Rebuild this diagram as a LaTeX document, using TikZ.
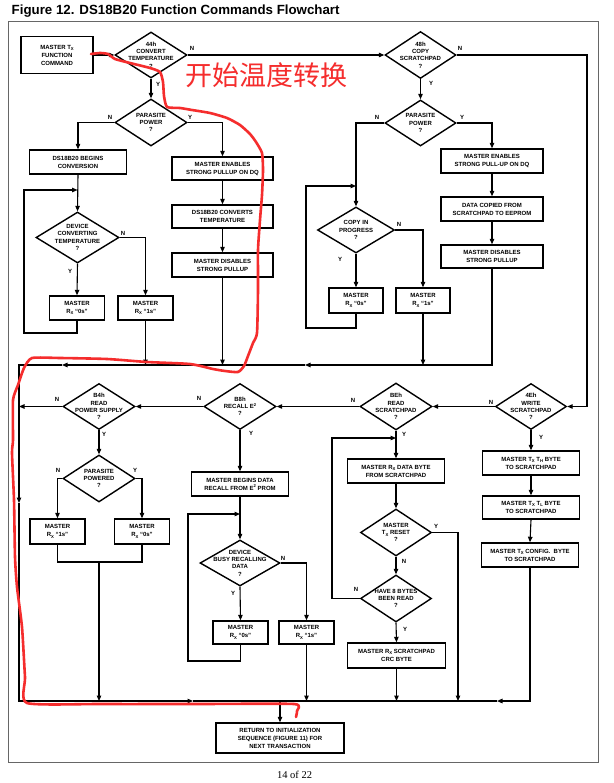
\documentclass[tikz,border=0pt]{standalone}
\usepackage{fontspec}
\setmainfont{Liberation Sans}
\newfontfamily\cjkfont{Noto Sans CJK SC}
\newfontfamily\tmsfont{Liberation Serif}
\usetikzlibrary{arrows.meta,shapes.geometric}
\newcommand\lo[1]{\raisebox{-0.45ex}{\fontsize{4.2}{4}\selectfont #1}}
\newcommand\hi[1]{\raisebox{0.75ex}{\fontsize{4.2}{4}\selectfont #1}}
\definecolor{annot}{RGB}{245,45,45}
\begin{document}
\begin{tikzpicture}[x=1pt,y=-1pt]
\tikzset{
 box/.style={draw, line width=1.4pt, inner sep=0pt, align=center, font=\fontsize{6}{8}\selectfont\bfseries},
 dia/.style={draw, diamond, line width=1.4pt, inner sep=0pt},
 dt/.style={align=center, inner sep=0pt, font=\fontsize{6}{7.3}\selectfont\bfseries},
 yn/.style={inner sep=0pt, font=\fontsize{6}{6}\selectfont\bfseries},
 ln/.style={line width=1.1pt},
 ar/.style={line width=1.1pt, -{Triangle[length=5.5pt,width=4.5pt]}},
}
\useasboundingbox (0,0) rectangle (613,783);
\fill[white] (0,0) rectangle (613,783);
\node[anchor=base west, inner sep=0pt, font=\fontsize{13.3}{14}\selectfont\bfseries] (title) at (11.5,15) {Figure 12. DS18B20 Function Commands Flowchart};
\draw[black!60, line width=1pt] (8,22) rectangle (598,762);
\node[anchor=base, inner sep=0pt, font=\tmsfont\fontsize{10.5}{12}\selectfont] (page) at (294.5,778) {14 of 22};

% ---------- top left ----------
\node[box, minimum width=72pt, minimum height=37pt] (n1) at (57,55) {MASTER T\lo{X}\\FUNCTION\\COMMAND};
\node[dia, minimum width=72pt, minimum height=46pt] (d1) at (151,55) {};
\node[dt] (d1t) at (d1) {44h\\CONVERT\\TEMPERATURE\\?};
\node[dia, minimum width=72pt, minimum height=47pt] (d2) at (151,122.5) {};
\node[dt] (d2t) at (d2) {PARASITE\\POWER\\?};
\node[box, minimum width=97pt, minimum height=24pt] (n2) at (78,162) {DS18B20 BEGINS\\CONVERSION};
\node[box, minimum width=101pt, minimum height=23pt] (n3) at (222.5,168.5) {MASTER ENABLES\\STRONG PULLUP ON DQ};
\node[dia, minimum width=83pt, minimum height=51pt] (d3) at (77.5,237.5) {};
\node[dt] (d3t) at (d3) {DEVICE\\CONVERTING\\TEMPERATURE\\?};
\node[box, minimum width=55pt, minimum height=24pt] (n4) at (77,308) {MASTER\\R\lo{X} “0s”};
\node[box, minimum width=55pt, minimum height=24pt] (n5) at (145.5,308) {MASTER\\R\lo{X} “1s”};
\node[box, minimum width=101pt, minimum height=23pt] (n6) at (222.5,216.5) {DS18B20 CONVERTS\\TEMPERATURE};
\node[box, minimum width=101pt, minimum height=24pt] (n7) at (222.5,265) {MASTER DISABLES\\STRONG PULLUP};

% ---------- top right ----------
\node[dia, minimum width=71pt, minimum height=47pt] (d4) at (420.5,55) {};
\node[dt] (d4t) at (d4) {48h\\COPY\\SCRATCHPAD\\?};
\node[dia, minimum width=71pt, minimum height=46pt] (d5) at (420.5,123) {};
\node[dt] (d5t) at (d5) {PARASITE\\POWER\\?};
\node[box, minimum width=102pt, minimum height=24pt] (n8) at (492,161) {MASTER ENABLES\\STRONG PULL-UP ON DQ};
\node[box, minimum width=102pt, minimum height=24pt] (n9) at (492,209) {DATA COPIED FROM\\SCRATCHPAD TO EEPROM};
\node[box, minimum width=102pt, minimum height=23pt] (n10) at (492,256.5) {MASTER DISABLES\\STRONG PULLUP};
\node[dia, minimum width=77pt, minimum height=46pt] (d6) at (356,230) {};
\node[dt] (d6t) at (d6) {COPY IN\\PROGRESS\\?};
\node[box, minimum width=54pt, minimum height=25pt] (n11) at (356,300.5) {MASTER\\R\lo{X} “0s”};
\node[box, minimum width=54pt, minimum height=25pt] (n12) at (423,300.5) {MASTER\\R\lo{X} “1s”};

% ---------- middle row ----------
\node[dia, minimum width=72pt, minimum height=46pt] (d7) at (99,406.5) {};
\node[dt] (d7t) at (d7) {B4h\\READ\\POWER SUPPLY\\?};
\node[dia, minimum width=72pt, minimum height=46pt] (d8) at (240,406.5) {};
\node[dt] (d8t) at (d8) {B8h\\RECALL E\hi{2}\\?};
\node[dia, minimum width=72pt, minimum height=47pt] (d9) at (396,406.5) {};
\node[dt] (d9t) at (d9) {BEh\\READ\\SCRATCHPAD\\?};
\node[dia, minimum width=71pt, minimum height=46pt] (d10) at (531,406.5) {};
\node[dt] (d10t) at (d10) {4Eh\\WRITE\\SCRATCHPAD\\?};

\node[dia, minimum width=72pt, minimum height=47pt] (d11) at (99,478.5) {};
\node[dt] (d11t) at (d11) {PARASITE\\POWERED\\?};
\node[box, minimum width=55pt, minimum height=25pt] (n13) at (57.5,531.5) {MASTER\\R\lo{X} “1s”};
\node[box, minimum width=55pt, minimum height=25pt] (n14) at (142,531.5) {MASTER\\R\lo{X} “0s”};

\node[box, minimum width=97pt, minimum height=24pt] (n16) at (240,484) {MASTER BEGINS DATA\\RECALL FROM E\hi{2} PROM};
\node[dia, minimum width=80pt, minimum height=46pt] (d12) at (240,563) {};
\node[dt] (d12t) at (d12) {DEVICE\\BUSY RECALLING\\DATA\\?};
\node[box, minimum width=55pt, minimum height=23pt] (n17) at (240.5,632.5) {MASTER\\R\lo{X} “0s”};
\node[box, minimum width=55pt, minimum height=23pt] (n18) at (306.5,632.5) {MASTER\\R\lo{X} “1s”};

\node[box, minimum width=97pt, minimum height=24pt] (n19) at (396,471) {MASTER R\lo{X} DATA BYTE\\FROM SCRATCHPAD};
\node[dia, minimum width=71pt, minimum height=47pt] (d13) at (396,532.5) {};
\node[dt] (d13t) at (d13) {MASTER\\T\lo{X} RESET\\?};
\node[dia, minimum width=71pt, minimum height=47pt] (d14) at (396,598.5) {};
\node[dt] (d14t) at (d14) {HAVE 8 BYTES\\BEEN READ\\?};
\node[box, minimum width=98pt, minimum height=25pt] (n20) at (396.5,655.5) {MASTER R\lo{X} SCRATCHPAD\\CRC BYTE};

\node[box, minimum width=97pt, minimum height=24pt] (n21) at (531,463) {MASTER T\lo{X} T\lo{H} BYTE\\TO SCRATCHPAD};
\node[box, minimum width=97pt, minimum height=23pt] (n22) at (531,507.5) {MASTER T\lo{X} T\lo{L} BYTE\\TO SCRATCHPAD};
\node[box, minimum width=97pt, minimum height=24pt] (n23) at (530,555) {MASTER T\lo{X} CONFIG.\ \ BYTE\\TO SCRATCHPAD};

\node[box, minimum width=128pt, minimum height=30pt] (n24) at (280,738) {RETURN TO INITIALIZATION\\SEQUENCE (FIGURE 11) FOR\\NEXT TRANSACTION};

% ---------- Y / N labels ----------
\node[yn] (l1n) at (192,48) {N};   \node[yn] (l1y) at (158,84) {Y};
\node[yn] (l2n) at (110,117) {N};  \node[yn] (l2y) at (190,117) {Y};
\node[yn] (l3n) at (123,233) {N};  \node[yn] (l3y) at (70,271) {Y};
\node[yn] (l4n) at (460,48) {N};   \node[yn] (l4y) at (431,83) {Y};
\node[yn] (l5n) at (377,117) {N};  \node[yn] (l5y) at (462,117) {Y};
\node[yn] (l6n) at (399,224) {N};  \node[yn] (l6y) at (340,259) {Y};
\node[yn] (l7n) at (57,399) {N};   \node[yn] (l7y) at (104,434) {Y};
\node[yn] (l8n) at (199,398) {N};  \node[yn] (l8y) at (251,433) {Y};
\node[yn] (l9n) at (353,400) {N};  \node[yn] (l9y) at (404,434) {Y};
\node[yn] (l10n) at (491,402) {N}; \node[yn] (l10y) at (541,437) {Y};
\node[yn] (l11n) at (58,470) {N};  \node[yn] (l11y) at (135,470) {Y};
\node[yn] (l12n) at (283,558) {N}; \node[yn] (l12y) at (233,593) {Y};
\node[yn] (l13y) at (436,526) {Y}; \node[yn] (l13n) at (404,561) {N};
\node[yn] (l14n) at (356,589) {N}; \node[yn] (l14y) at (405,629) {Y};

% ---------- coordinates ----------
\coordinate (c1) at (24,333);  \coordinate (c2) at (77.5,190);
\coordinate (c3) at (306,328); \coordinate (c4) at (356,186);
\coordinate (c5) at (188,661); \coordinate (c6) at (240,514);
\coordinate (c7) at (332,438); \coordinate (c8) at (396,438);
\coordinate (m1) at (305,365); \coordinate (m2) at (62,365);
\coordinate (h1) at (19,365);  \coordinate (m3) at (19,503);
\coordinate (m4) at (193,701); \coordinate (m5) at (497,701);
\coordinate (j1) at (99,562);  \coordinate (t1) at (458,701);
\coordinate (b1) at (280,701); \coordinate (r1) at (587,55);

% ---------- connectors top left ----------
\draw[ar] (n1.east) -- (d1.west);
\draw[ar] (d1.east) -- (d4.west);
\draw[ar] (d1.south) -- (d2.north);
\draw[ar] (d2.west) -| (n2.north);
\draw[ar] (d2.east) -| (n3.north);
\draw[ar] (n3.south) -- (n6.north);
\draw[ar] (n6.south) -- (n7.north);
\draw[ar] (n2.south) -- (d3.north);
\draw[ar] (d3.east) -| (n5.north);
\draw[ar] (d3.south) -- (n4.north);
\draw[ar] (n4.south) |- (c1) |- (c2);
\draw[ar] (n5.south) -- (n5.south |- m1);
\draw[ar] (n7.south) -- (n7.south |- m1);

% ---------- connectors top right ----------
\draw[ar] (d4.south) -- (d5.north);
\draw[ar] (d5.west) -| (d6.north);
\draw[ar] (d5.east) -| (n8.north);
\draw[ar] (n8.south) -- (n9.north);
\draw[ar] (n9.south) -- (n10.north);
\draw[ar] (d6.south) -- (n11.north);
\draw[ar] (d6.east) -| (n12.north);
\draw[ar] (n11.south) |- (c3) |- (c4);
\draw[ar] (n12.south) -- (n12.south |- m1);
\draw[ar] (d4.east) -- (r1) |- (d10.east);

% ---------- collecting lines ----------
\draw[ar] (n10.south) |- (m1);
\draw[ar] (m1) -- (m2);
\draw[ar] (m2) -- (h1) -- (m3);
\draw[ar] (m3) |- (m4);
\draw[ln] (m4) -- (m5);
\draw[ar] (n23.south) |- (m5);
\draw[ar] (b1) -- (n24.north);

% ---------- middle ----------
\draw[ar] (d10.west) -- (d9.east);
\draw[ar] (d9.west) -- (d8.east);
\draw[ar] (d8.west) -- (d7.east);
\draw[ar] (d7.west) -- (d7.west -| h1);
\draw[ar] (d7.south) -- (d11.north);
\draw[ar] (d11.west) -| (n13.north);
\draw[ar] (d11.east) -| (n14.north);
\draw[ln] (n13.south) |- (j1) -| (n14.south);
\draw[ar] (j1) -- (j1 |- m4);
\draw[ar] (d8.south) -- (n16.north);
\draw[ar] (n16.south) -- (d12.north);
\draw[ar] (d12.south) -- (n17.north);
\draw[ar] (d12.east) -| (n18.north);
\draw[ar] (n17.south) |- (c5) |- (c6);
\draw[ar] (n18.south) -- (n18.south |- m4);
\draw[ar] (d9.south) -- (n19.north);
\draw[ar] (n19.south) -- (d13.north);
\draw[ar] (d13.south) -- (d14.north);
\draw[ar] (d14.south) -- (n20.north);
\draw[ar] (d14.west) -| (c7) -- (c8);
\draw[ar] (d13.east) -| (t1);
\draw[ar] (n20.south) -- (n20.south |- m4);
\draw[ar] (d10.south) -- (n21.north);
\draw[ar] (n21.south) -- (n22.north);
\draw[ar] (n22.south) -- (n23.north);

% ---------- red annotation ----------
\node[inner sep=0pt, text=annot, font=\cjkfont\fontsize{27}{27}\selectfont] (cn) at (266,75) {开始温度转换};
\draw[annot, line width=2.6pt, line cap=round, line join=round] plot[smooth, tension=0.35] coordinates {
 (91,54) (100,53) (108,54) (115,59) (130,63) (150,68) (160,72) (163,82) (164,96) (167,107)
 (180,108) (192,110) (210,113) (227,118) (240,125) (250,134) (256,142) (262,153) (263,170)
 (262,195) (260,220) (258,250) (258,290) (257,333) (253,343) (248,356) (244,366) (238,372)
 (225,371) (213,369) (190,364) (147,362) (107,359) (60,358) (32,358) (24,368) (18,385)
 (13,400) (13,440) (12,453) (14,500) (15,557) (17,587) (22,627) (25,677) (27,703)
 (100,704) (200,704) (294,704) (297,711) (296,717)};
\end{tikzpicture}
\end{document}
